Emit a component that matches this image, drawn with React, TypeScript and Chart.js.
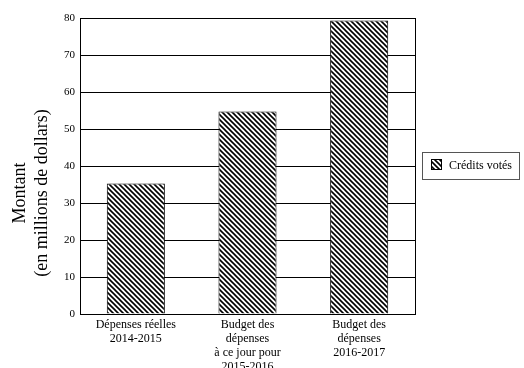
import React, { useEffect, useRef } from "react";
import { Chart, registerables } from "chart.js";

Chart.register(...registerables);

const categories: string[][] = [
  ["Dépenses réelles", "2014-2015"],
  ["Budget des", "dépenses", "à ce jour pour", "2015-2016"],
  ["Budget des", "dépenses", "2016-2017"],
];
const creditsVotes: number[] = [35.3, 54.7, 79.3];
const seriesLabel = "Crédits votés";
const yTitle = ["Montant", "(en millions de dollars)"];
const yMin = 0;
const yMax = 80;
const yStep = 10;

const FONT = "'Liberation Serif', 'Times New Roman', serif";

function makePattern(): CanvasPattern | string {
  const c = document.createElement("canvas");
  const s = 5;
  c.width = s;
  c.height = s;
  const ctx = c.getContext("2d");
  if (!ctx) return "#555";
  ctx.fillStyle = "#fff";
  ctx.fillRect(0, 0, s, s);
  ctx.strokeStyle = "#000";
  ctx.lineWidth = 1.6;
  ctx.beginPath();
  for (let k = -1; k <= 1; k++) {
    ctx.moveTo(k * s - 1, -1);
    ctx.lineTo(k * s + s + 1, s + 1);
  }
  ctx.stroke();
  const p = ctx.createPattern(c, "repeat");
  return p || "#555";
}

export default function App() {
  const ref = useRef<HTMLCanvasElement | null>(null);
  useEffect(() => {
    if (!ref.current) return;
    const pattern = makePattern();
    const frame = {
      id: "frame",
      afterDraw(chart: any) {
        const { ctx, chartArea } = chart;
        ctx.save();
        ctx.strokeStyle = "#000";
        ctx.lineWidth = 1;
        ctx.strokeRect(
          Math.round(chartArea.left) + 0.5,
          Math.round(chartArea.top) + 0.5,
          Math.round(chartArea.right - chartArea.left),
          Math.round(chartArea.bottom - chartArea.top)
        );
        // y title
        ctx.fillStyle = "#000";
        ctx.font = `18px ${FONT}`;
        ctx.textAlign = "center";
        ctx.textBaseline = "alphabetic";
        const xs = [25, 46.5];
        yTitle.forEach((t, i) => {
          ctx.save();
          ctx.translate(xs[i], 193);
          ctx.rotate(-Math.PI / 2);
          ctx.fillText(t, 0, 0);
          ctx.restore();
        });
        // legend
        const bx = 422.5, by = 152.5, bw = 97, bh = 27;
        ctx.fillStyle = "#fff";
        ctx.fillRect(bx, by, bw, bh);
        ctx.strokeStyle = "#555";
        ctx.strokeRect(bx, by, bw, bh);
        ctx.fillStyle = pattern;
        ctx.fillRect(431, 159, 10, 10);
        ctx.strokeStyle = "#000";
        ctx.strokeRect(431.5, 159.5, 10, 10);
        ctx.fillStyle = "#000";
        ctx.font = `12px ${FONT}`;
        ctx.textBaseline = "middle";
        ctx.textAlign = "left";
        ctx.fillText(seriesLabel, 449, 165.5);
        ctx.restore();
      },
    };
    const chart = new Chart(ref.current, {
      type: "bar",
      data: {
        labels: categories,
        datasets: [
          {
            label: seriesLabel,
            data: creditsVotes,
            backgroundColor: pattern as any,
            borderColor: "#000",
            borderWidth: 1,
            categoryPercentage: 1,
            barPercentage: 0.52,
          },
        ],
      },
      options: {
        responsive: false,
        animation: false,
        layout: { padding: { top: 18, right: 109, left: 0, bottom: 0 } },
        plugins: { legend: { display: false }, tooltip: { enabled: false } },
        scales: {
          x: {
            grid: { display: false, drawTicks: false },
            border: { display: true, color: "#000" },
            ticks: {
              color: "#000",
              font: { family: FONT, size: 12, lineHeight: 1.17 },
              maxRotation: 0,
              autoSkip: false,
              padding: 4,
            },
            afterFit(scale: any) {
              scale.height = 54;
            },
          },
          y: {
            min: yMin,
            max: yMax,
            grid: { color: "#000", drawTicks: false, lineWidth: 1 },
            border: { display: true, color: "#000" },
            ticks: {
              stepSize: yStep,
              color: "#000",
              font: { family: FONT, size: 11 },
              padding: 5,
            },
            afterFit(scale: any) {
              scale.width = 80;
            },
          },
        },
      },
      plugins: [frame],
    });
    return () => chart.destroy();
  }, []);
  return (
    <canvas
      ref={ref}
      width={524}
      height={368}
      style={{ position: "absolute", left: 0, top: 0, width: 524, height: 368 }}
    />
  );
}
